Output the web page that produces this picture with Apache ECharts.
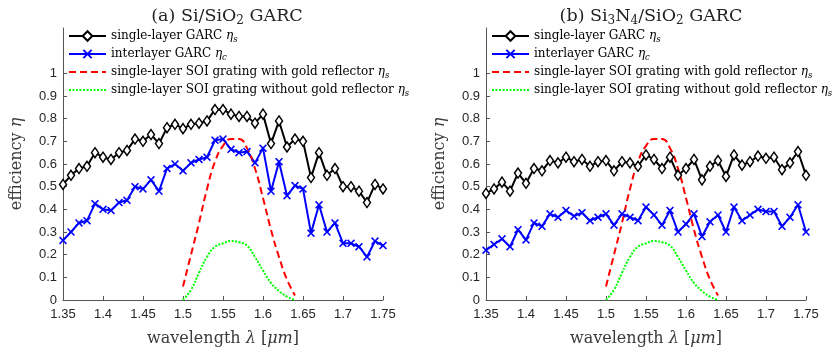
<!DOCTYPE html>
<html>
<head>
<meta charset="utf-8">
<script src="https://cdn.jsdelivr.net/npm/echarts@6/dist/echarts.min.js"></script>
<style>
  html, body { margin: 0; padding: 0; background: #fff; }
  #main { width: 839px; height: 354px; }
</style>
</head>
<body>
<div id="main"></div>
<script>
  // wavelength samples (um)
  var wl = [1.35, 1.36, 1.37, 1.38, 1.39, 1.40, 1.41, 1.42, 1.43, 1.44, 1.45, 1.46, 1.47, 1.48,
            1.49, 1.50, 1.51, 1.52, 1.53, 1.54, 1.55, 1.56, 1.57, 1.58, 1.59, 1.60, 1.61, 1.62,
            1.63, 1.64, 1.65, 1.66, 1.67, 1.68, 1.69, 1.70, 1.71, 1.72, 1.73, 1.74, 1.75];
  var soiWl = [1.50, 1.51, 1.52, 1.53, 1.54, 1.55, 1.56, 1.57, 1.58, 1.59, 1.60, 1.61, 1.62, 1.63, 1.64];

  // (a) Si/SiO2
  var aSingle = [0.51, 0.55, 0.58, 0.59, 0.65, 0.63, 0.62, 0.65, 0.66, 0.71, 0.70, 0.73, 0.69, 0.76,
                 0.775, 0.756, 0.775, 0.78, 0.79, 0.84, 0.84, 0.82, 0.81, 0.81, 0.78, 0.82, 0.69, 0.79,
                 0.675, 0.71, 0.70, 0.54, 0.65, 0.55, 0.58, 0.50, 0.50, 0.48, 0.43, 0.51, 0.49];
  var aInter = [0.263, 0.30, 0.34, 0.35, 0.425, 0.40, 0.395, 0.43, 0.44, 0.50, 0.49, 0.53, 0.48, 0.58,
                0.60, 0.57, 0.605, 0.62, 0.63, 0.705, 0.71, 0.665, 0.65, 0.655, 0.605, 0.67, 0.48, 0.61,
                0.46, 0.505, 0.49, 0.295, 0.42, 0.30, 0.34, 0.25, 0.25, 0.235, 0.19, 0.26, 0.24];

  // (b) Si3N4/SiO2
  var bSingle = [0.47, 0.49, 0.52, 0.48, 0.56, 0.515, 0.58, 0.57, 0.615, 0.605, 0.63, 0.61, 0.62, 0.59,
                 0.61, 0.615, 0.57, 0.61, 0.605, 0.59, 0.64, 0.62, 0.58, 0.63, 0.55, 0.58, 0.62, 0.53,
                 0.59, 0.615, 0.545, 0.64, 0.595, 0.61, 0.635, 0.625, 0.63, 0.575, 0.605, 0.655, 0.55];
  var bInter = [0.22, 0.245, 0.27, 0.235, 0.31, 0.265, 0.34, 0.325, 0.38, 0.365, 0.395, 0.37, 0.385, 0.35,
                0.365, 0.38, 0.33, 0.38, 0.365, 0.35, 0.41, 0.375, 0.33, 0.395, 0.30, 0.335, 0.38, 0.28,
                0.345, 0.375, 0.30, 0.41, 0.35, 0.375, 0.40, 0.39, 0.39, 0.325, 0.365, 0.42, 0.30];

  // SOI reference gratings (same in both panels)
  var soiGold = [0.06, 0.20, 0.34, 0.49, 0.61, 0.68, 0.71, 0.71, 0.67, 0.58, 0.45, 0.31, 0.19, 0.09, 0.02];
  var soiNoGold = [0.0, 0.045, 0.12, 0.19, 0.235, 0.25, 0.26, 0.255, 0.24, 0.19, 0.13, 0.075, 0.04, 0.015, 0.0];

  var yTicks = [0, 0.1, 0.2, 0.3, 0.4, 0.5, 0.6, 0.7, 0.8, 0.9, 1];

  var serif = 'DejaVu Serif';
  var sans = 'Liberation Sans';
  var axisCol = '#555';

  function pairs(xs, ys) {
    return xs.map(function (x, i) { return [x, ys[i]]; });
  }

  var rich = {
    i: { fontFamily: serif, fontStyle: 'italic', fontSize: 12, lineHeight: 16, color: '#000' },
    sub: { fontFamily: serif, fontStyle: 'italic', fontSize: 8.5, color: '#000', verticalAlign: 'bottom', lineHeight: 8 }
  };

  var legendText = {
    s1: 'single-layer GARC {i|η}{sub|s}',
    s2: 'interlayer GARC {i|η}{sub|c}',
    s3: 'single-layer SOI grating with gold reflector {i|η}{sub|s}',
    s4: 'single-layer SOI grating without gold reflector {i|η}{sub|s}'
  };

  var xSym = 'path://M0,1.4L1.4,0L5,3.6L8.6,0L10,1.4L6.4,5L10,8.6L8.6,10L5,6.4L1.4,10L0,8.6L3.6,5Z';

  function panelSeries(idx, single, inter) {
    return [
      { name: 's1', type: 'line', xAxisIndex: idx, yAxisIndex: idx, data: pairs(wl, single),
        symbol: 'diamond', symbolSize: [7, 10],
        lineStyle: { color: '#000', width: 2 },
        itemStyle: { color: '#fff', borderColor: '#000', borderWidth: 1.5 } },
      { name: 's2', type: 'line', xAxisIndex: idx, yAxisIndex: idx, data: pairs(wl, inter),
        symbol: xSym, symbolSize: 8,
        lineStyle: { color: '#0000ff', width: 2 },
        itemStyle: { color: '#0000ff' } },
      { name: 's3', type: 'line', xAxisIndex: idx, yAxisIndex: idx, data: pairs(soiWl, soiGold),
        symbol: 'none', smooth: true,
        lineStyle: { color: '#ff0000', width: 2, type: [7, 4] },
        itemStyle: { color: '#ff0000' } },
      { name: 's4', type: 'line', xAxisIndex: idx, yAxisIndex: idx, data: pairs(soiWl, soiNoGold),
        symbol: 'none', smooth: true,
        lineStyle: { color: '#00ff00', width: 2, type: [2, 1.5] },
        itemStyle: { color: '#00ff00' } }
    ];
  }

  var nameStyle = { fontFamily: serif, fontSize: 16, color: '#3a3a3a',
    rich: { i: { fontFamily: serif, fontStyle: 'italic', fontSize: 16, color: '#3a3a3a' } } };

  function xAxisCfg(idx) {
    return {
      type: 'value', gridIndex: idx, min: 1.35, max: 1.75, interval: 0.05,
      name: 'wavelength {i|λ} [{i|μm}]', nameLocation: 'middle', nameGap: 31,
      nameTextStyle: nameStyle,
      axisLine: { lineStyle: { color: axisCol, width: 1 } },
      axisTick: { inside: true, length: 4, lineStyle: { color: axisCol } },
      axisLabel: { fontFamily: sans, fontSize: 13, color: '#262626', margin: 8,
        formatter: function (v) { return +v.toFixed(2) + ''; } },
      splitLine: { show: false }
    };
  }

  function yAxisCfg(idx) {
    return {
      type: 'value', gridIndex: idx, min: 0, max: 1.2, interval: 0.1,
      name: 'efficiency {i|η}', nameLocation: 'middle', nameGap: 38, nameRotate: 90,
      nameTextStyle: nameStyle,
      axisLine: { show: true, lineStyle: { color: axisCol, width: 1 } },
      axisTick: { inside: true, length: 4, lineStyle: { color: axisCol }, customValues: yTicks },
      axisLabel: { fontFamily: sans, fontSize: 13, color: '#262626', margin: 6, customValues: yTicks,
        formatter: function (v) { return +v.toFixed(1) + ''; } },
      splitLine: { show: false }
    };
  }

  function legendCfg(left) {
    return {
      orient: 'vertical', left: left, top: 28, padding: 0,
      itemWidth: 37, itemHeight: 12, itemGap: 2,
      data: [
        { name: 's1' },
        { name: 's2' },
        { name: 's3', itemStyle: { opacity: 0 } },
        { name: 's4', itemStyle: { opacity: 0 } }
      ],
      selectedMode: false,
      formatter: function (n) { return legendText[n]; },
      textStyle: { fontFamily: serif, fontSize: 12, lineHeight: 16, color: '#000', rich: rich }
    };
  }

  var titleRich = { sub: { fontFamily: serif, fontSize: 12, color: '#222', verticalAlign: 'bottom', lineHeight: 10 } };
  var titleStyle = { fontFamily: serif, fontSize: 17.5, lineHeight: 22, fontWeight: 'normal', color: '#222', rich: titleRich };

  var chart = echarts.init(document.getElementById('main'));
  chart.setOption({
    animation: false,
    backgroundColor: '#fff',
    title: [
      { text: '(a) Si/SiO{sub|2} GARC', left: 222, top: 0, textAlign: 'center', textStyle: titleStyle },
      { text: '(b) Si{sub|3}N{sub|4}/SiO{sub|2} GARC', left: 646, top: 0, textAlign: 'center', textStyle: titleStyle }
    ],
    legend: [legendCfg(68), legendCfg(491)],
    grid: [
      { left: 63, top: 28, width: 320, height: 272 },
      { left: 486, top: 28, width: 320, height: 272 }
    ],
    xAxis: [xAxisCfg(0), xAxisCfg(1)],
    yAxis: [yAxisCfg(0), yAxisCfg(1)],
    series: panelSeries(0, aSingle, aInter).concat(panelSeries(1, bSingle, bInter))
  });
</script>
</body>
</html>
